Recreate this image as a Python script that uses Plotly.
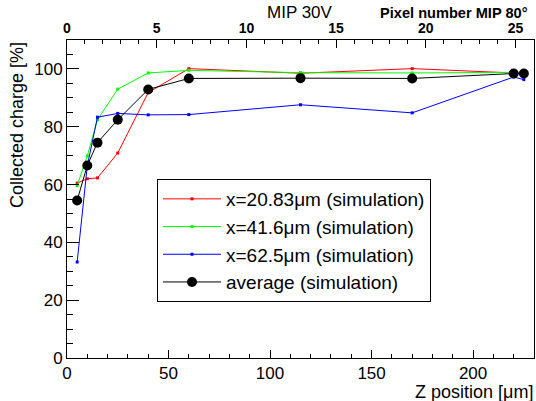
import plotly.graph_objects as go

z_pos = [5, 10, 15, 25, 40, 60, 115, 170, 220, 225]
red_vals = [60.5, 62.0, 62.3, 70.9, 91.8, 100.1, 98.5, 100.1, 98.6, 98.4]
green_vals = [59.6, 69.9, 82.4, 93.0, 98.6, 99.5, 98.7, 98.6, 98.8, 98.7]
blue_vals = [33.2, 66.5, 83.3, 84.6, 84.1, 84.2, 87.6, 84.8, 97.2, 96.3]
avg_vals = [54.5, 66.6, 74.5, 82.4, 92.9, 96.7, 96.8, 96.7, 98.4, 98.4]

names = ["x=20.83μm (simulation)", "x=41.6μm (simulation)",
         "x=62.5μm (simulation)", "average (simulation)"]
colors = ["#ff0000", "#00ff00", "#0000ff", "#000000"]

x_max = 230.0
um_per_pixel = 8.836
top_max = x_max / um_per_pixel
top_ticks = [0, 5, 10, 15, 20, 25]

FONT = "Liberation Sans, Arial, sans-serif"

fig = go.Figure()
series = [red_vals, green_vals, blue_vals, avg_vals]
for i, (vals, nm, c) in enumerate(zip(series, names, colors)):
    is_avg = (i == 3)
    fig.add_trace(go.Scatter(
        x=z_pos, y=vals, name=nm, mode="lines+markers",
        line=dict(color=c, width=1),
        marker=dict(color=c, size=10 if is_avg else 3,
                    symbol="circle" if is_avg else "square"),
    ))

# invisible trace to hold the top axis
fig.add_trace(go.Scatter(x=[0, top_max], y=[0, 0], xaxis="x2", mode="markers",
                         marker=dict(opacity=0), showlegend=False, hoverinfo="skip"))

PW = 467.0
PH = 318.0

fig.update_layout(
    width=536, height=401,
    margin=dict(l=67, r=2, t=40, b=43),
    paper_bgcolor="white", plot_bgcolor="white",
    font=dict(family=FONT, color="black"),
    showlegend=True,
    legend=dict(
        x=(157 - 67) / PW, y=1 - (179 - 40) / PH,
        xanchor="left", yanchor="top",
        bordercolor="black", borderwidth=1, bgcolor="white",
        font=dict(size=19, family=FONT),
        itemwidth=58,
    ),
    xaxis=dict(
        range=[0, x_max], showgrid=False, zeroline=False,
        showline=True, linecolor="black", linewidth=1,
        ticks="inside", ticklen=8, tickcolor="black",
        tick0=0, dtick=50,
        minor=dict(ticks="inside", ticklen=4, dtick=10, tickcolor="black"),
        tickfont=dict(size=17),
    ),
    xaxis2=dict(
        range=[0, top_max], overlaying="x", side="top",
        showgrid=False, zeroline=False,
        showline=True, linecolor="black", linewidth=1,
        ticks="inside", ticklen=8, tickcolor="black",
        tickvals=top_ticks, ticktext=[str(t) for t in top_ticks],
        minor=dict(ticks="inside", ticklen=4, dtick=1, tick0=0, tickcolor="black"),
        tickfont=dict(size=14, family=FONT, weight="bold"),
    ),
    yaxis=dict(
        range=[0, 110], showgrid=False, zeroline=False,
        showline=True, linecolor="black", linewidth=1, mirror=True,
        ticks="inside", ticklen=12, tickcolor="black",
        tick0=0, dtick=20,
        minor=dict(ticks="inside", ticklen=6, dtick=5, tickcolor="black"),
        tickfont=dict(size=17),
    ),
    annotations=[
        dict(text="Collected charge [%]", xref="paper", yref="paper",
             x=(17 - 67) / PW, y=1, xanchor="center", yanchor="top",
             textangle=-90, showarrow=False, font=dict(size=18)),
        dict(text="Z position [μm]", xref="paper", yref="paper",
             x=(535 - 67) / PW, y=-(392 - 358) / PH, xanchor="right", yanchor="middle",
             showarrow=False, font=dict(size=18)),
        dict(text="MIP 30V", xref="paper", yref="paper",
             x=(300 - 67) / PW, y=1 + (40 - 13) / PH, xanchor="center", yanchor="middle",
             showarrow=False, font=dict(size=17)),
        dict(text="<b>Pixel number MIP 80°</b>", xref="paper", yref="paper",
             x=(530 - 67) / PW, y=1 + (40 - 13) / PH, xanchor="right", yanchor="middle",
             showarrow=False, font=dict(size=14.6)),
    ],
)

fig.write_html("out.html")
